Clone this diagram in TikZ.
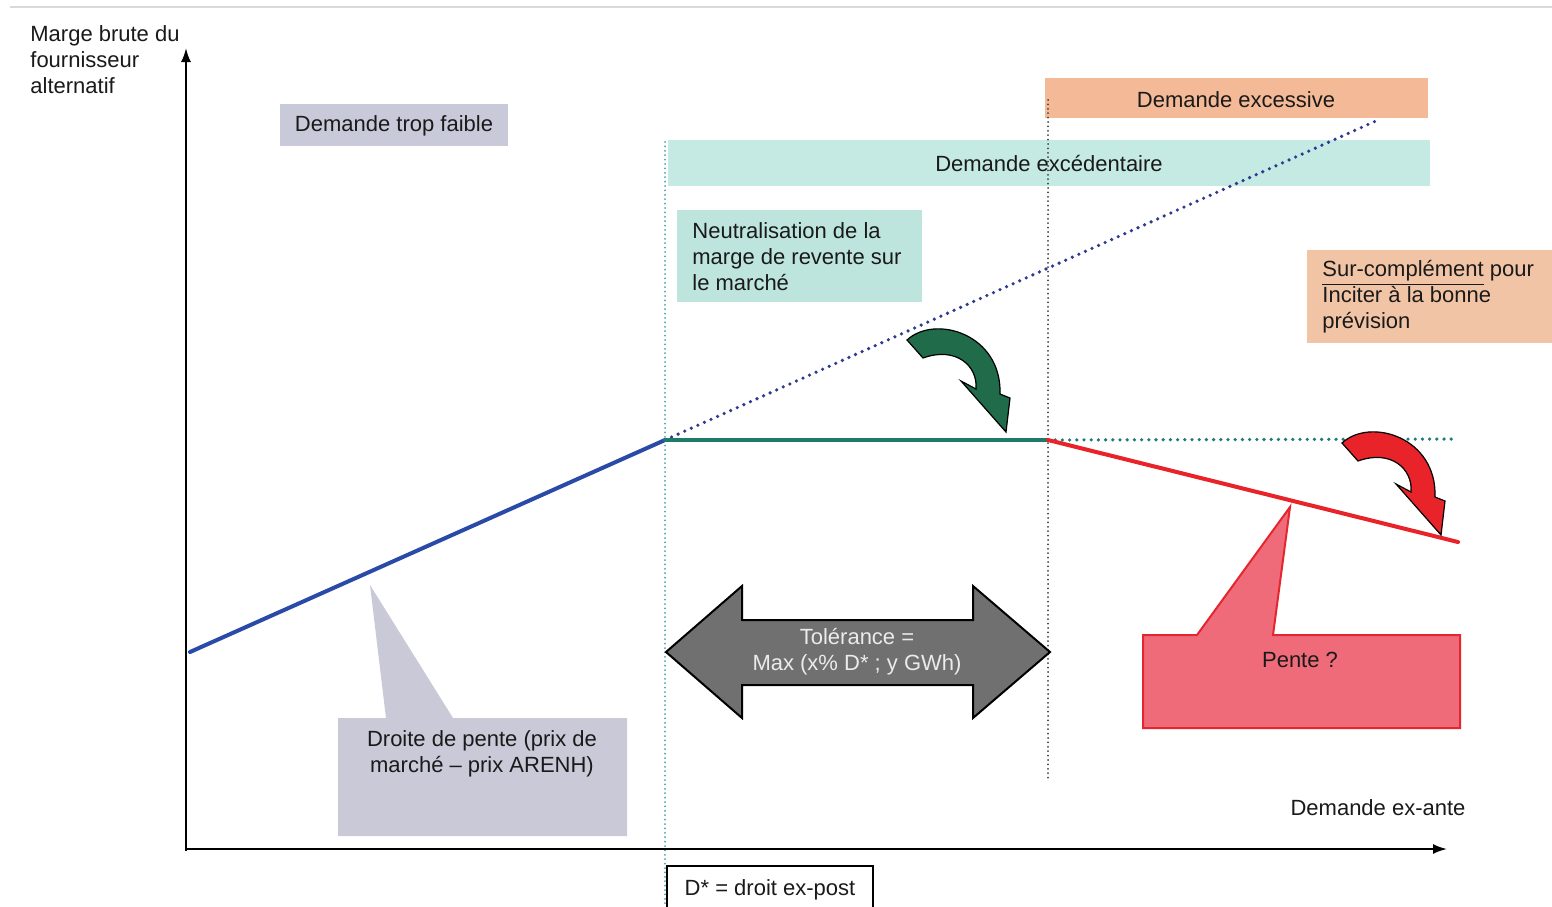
\documentclass[tikz,border=0pt]{standalone}
\usepackage{fontspec}
\setmainfont{Liberation Sans}
\usetikzlibrary{arrows.meta}
\definecolor{cfaible}{HTML}{C9CAD9}
\definecolor{cexcess}{HTML}{F4B996}
\definecolor{cexced}{HTML}{C5E9E3}
\definecolor{cneut}{HTML}{BDE5DE}
\definecolor{csurc}{HTML}{F2C4A6}
\definecolor{cdroite}{HTML}{C9C9D8}
\definecolor{cpente}{HTML}{EF6B7A}
\definecolor{cpenteb}{HTML}{E3262F}
\definecolor{ctol}{HTML}{707070}
\definecolor{cblue}{HTML}{2A4AA8}
\definecolor{cbluedot}{HTML}{2E3A90}
\definecolor{cteal}{HTML}{1E7A6A}
\definecolor{ctealdot}{HTML}{1E7A78}
\definecolor{cred}{HTML}{E8232A}
\definecolor{cgreenarr}{HTML}{1F6B4A}
\definecolor{cvdot}{HTML}{4AA0B0}
\definecolor{ctxt}{HTML}{1A1A1A}
\tikzset{
  lbl/.style={font=\fontsize{11}{13}\selectfont, text=ctxt, inner sep=0pt},
  flatbox/.style={draw=none, inner sep=0pt, rectangle},
  axisline/.style={line width=1pt, black, -{Latex[length=7pt,width=5pt]}},
  curve/.style={line width=2pt, line cap=round},
  dotline/.style={line width=1.8pt, line cap=round, dash pattern=on 0pt off 3.6pt},
  vdotline/.style={line width=1pt, line cap=round, dash pattern=on 0pt off 2.2pt},
  curvarrow/.pic={
    \fill[draw=black, line width=0.6pt, fill=#1]
      (907,340) .. controls (935,314) and (1002,334) .. (1000,394)
      -- (1010,398) -- (1006,432) -- (961,381) -- (976,389)
      .. controls (978,366) and (956,346) .. (923,358) -- cycle;
  }
}
\begin{document}
\begin{tikzpicture}[x=0.5pt,y=-0.5pt]
\useasboundingbox (0,0) rectangle (1552,906);
\clip (0,0) rectangle (1552,906);
\fill[white] (0,0) rectangle (1552,906);
% top rule
\draw[line width=0.6pt, black!15] (10,7) -- (1552,7);

% coordinates
\coordinate (O) at (188,850);
\coordinate (ytop) at (186,48);
\coordinate (xend) at (1447,849);
\coordinate (A) at (190,652);
\coordinate (B) at (665,440);
\coordinate (C) at (1048,440);
\coordinate (Dblue) at (1378,120);
\coordinate (Dteal) at (1458,439);
\coordinate (Ered) at (1458,542);
\coordinate (v1top) at (665,142);
\coordinate (v1bot) at (665,906);
\coordinate (v2top) at (1048,100);
\coordinate (v2bot) at (1048,778);

% background boxes
\node[flatbox, fill=cexcess, minimum width=191.5pt, minimum height=20pt] (excbox) at (1236.5,98) {};
\node[flatbox, fill=cexced, minimum width=381pt, minimum height=23pt] (excedbox) at (1049,163) {};
\node[flatbox, fill=cfaible, minimum width=114pt, minimum height=21pt] (faiblebox) at (394,125) {};
\node[flatbox, fill=cneut, minimum width=122.5pt, minimum height=46pt] (neutbox) at (799.5,256) {};
\node[flatbox, fill=csurc, minimum width=122.5pt, minimum height=46.5pt] (surcbox) at (1429.5,296.5) {};

% vertical dotted lines
\draw[vdotline, cvdot] (v1top) -- (v1bot);
\draw[vdotline, black!75] (v2top) -- (v2bot);

% curves
\draw[dotline, cbluedot] (B) -- (Dblue);
\draw[dotline, ctealdot] (C) -- (Dteal);
\draw[curve, cblue] (A) -- (B);
\draw[curve, cteal] (B) -- (C);
\draw[curve, cred] (C) -- (Ered);

% axes
\draw[axisline] (186,851) -- (ytop);
\draw[axisline] (186,849) -- (xend);

% curved arrows
\pic {curvarrow=cgreenarr};
\pic[shift={(435,103)}] {curvarrow=cred};

% callouts
\fill[cdroite] (338,718) -- (386,718) -- (370,585) -- (453,718) -- (627,718) -- (627,836) -- (338,836) -- cycle;
\filldraw[fill=cpente, draw=cpenteb, line width=1pt, line join=miter]
  (1143,635) -- (1197,635) -- (1290,507) -- (1273,635) -- (1460,635) -- (1460,728) -- (1143,728) -- cycle;

% double arrow
\filldraw[fill=ctol, draw=black, line width=1pt, line join=miter]
  (666,652) -- (742,586) -- (742,620) -- (973,620) -- (973,586) -- (1050,652)
  -- (973,718) -- (973,685) -- (742,685) -- (742,718) -- cycle;

% D* box
\draw[line width=1pt, black, fill=white] (667,866) rectangle (873,914);

% texts
\node[lbl, anchor=west, align=left] (ylab) at (30,60) {Marge brute du\\fournisseur\\alternatif};
\node[lbl] (faible) at (394,126) {Demande trop faible};
\node[lbl] (excess) at (1236,100) {Demande excessive};
\node[lbl] (exced) at (1049,164) {Demande excédentaire};
\node[lbl, anchor=west, align=left] (neut) at (692,257) {Neutralisation de la\\marge de revente sur\\le marché};
\node[lbl, anchor=west, align=left] (surc) at (1322,297) {\underline{Sur-complément} pour\\Inciter à la bonne\\prévision};
\node[lbl, align=center] (droite) at (482,754) {Droite de pente (prix de\\marché – prix ARENH)};
\node[lbl] (pente) at (1300,660) {Pente ?};
\node[lbl, align=center, text=white!92!black] (tol) at (857,652) {Tolérance =\\Max (x\% D* ; y GWh)};
\node[lbl] (xlab) at (1378,808) {Demande ex-ante};
\node[lbl] (dstar) at (770,890) {D* = droit ex-post};
\end{tikzpicture}
\end{document}
